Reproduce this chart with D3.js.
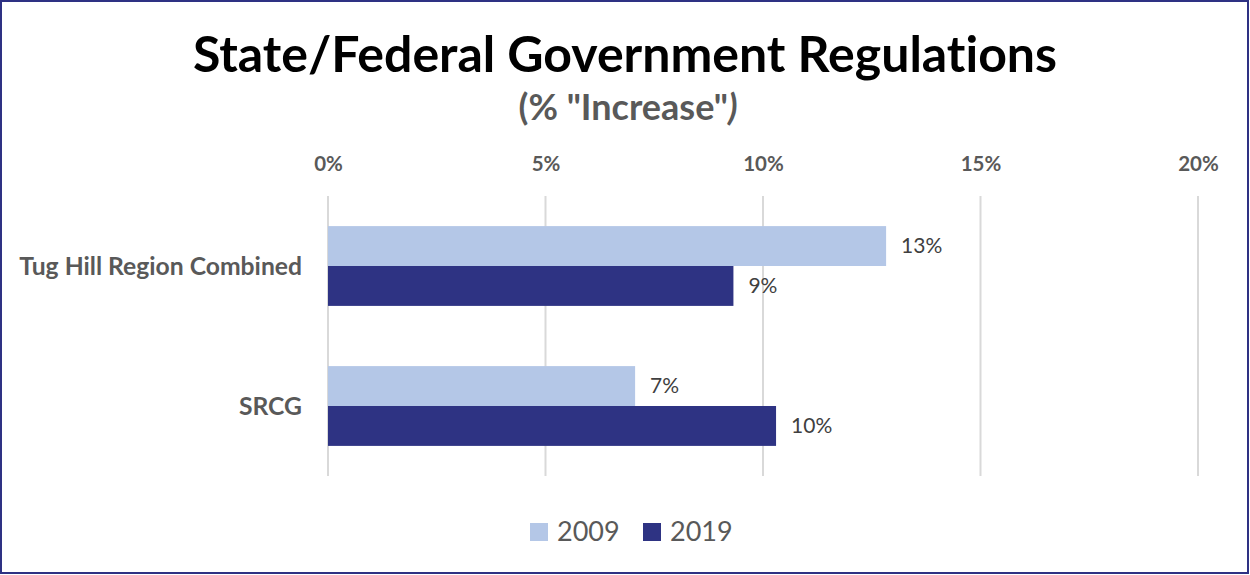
<!DOCTYPE html>
<html><head><meta charset="utf-8">
<script src="https://cdn.jsdelivr.net/npm/d3@7"></script>
<style>body{margin:0;background:#fff}svg{display:block}text{font-variant-ligatures:none}</style>
</head><body>
<svg id="c" width="1250" height="575"></svg>
<script>
const categories = ["Tug Hill Region Combined", "SRCG"];
const seriesNames = ["2009", "2019"];
const values2009 = [12.83, 7.06];
const values2019 = [9.32, 10.3];
const tickValues = [0, 5, 10, 15, 20];
const colors = ["#b4c7e7", "#2e3383"];

const svg = d3.select("#c");
const font = "Lato, 'Open Sans', sans-serif";
svg.append("rect").attr("x",1).attr("y",1).attr("width",1247).attr("height",572)
  .attr("fill","#fff").attr("stroke","#2e3183").attr("stroke-width",2);

const x = d3.scaleLinear().domain([0,20]).range([328,1198]);
const y = d3.scaleBand().domain(categories).range([196,476]).paddingInner(0.43).paddingOuter(0.215);
const ys = d3.scaleBand().domain(seriesNames).range([0,y.bandwidth()]);

svg.append("text").attr("x",625).attr("y",72).attr("text-anchor","middle")
  .attr("font-family",font).attr("font-weight","bold").attr("font-size",50).attr("fill","#000")
  .text("State/Federal Government Regulations");
const sub = svg.append("text").attr("x",628).attr("y",120).attr("text-anchor","middle")
  .attr("font-family",font).attr("font-weight","bold").attr("font-size",36).attr("fill","#595959");
sub.append("tspan").text('(% "Increase"');
sub.append("tspan").attr("font-style","italic").text(")");

// gridlines
svg.append("g").selectAll("line").data(tickValues).join("line")
  .attr("x1",d=>x(d)).attr("x2",d=>x(d)).attr("y1",196).attr("y2",476)
  .attr("stroke","#d9d9d9").attr("stroke-width",2);

const axis = d3.axisTop(x).tickValues(tickValues).tickFormat(d=>d+"%").tickSize(0).tickPadding(0);
const ag = svg.append("g").attr("transform","translate(0,171)").call(axis);
ag.select(".domain").remove();
ag.selectAll("text").attr("font-family",font).attr("font-weight","bold").attr("font-size",20.5).attr("fill","#595959");

const data = categories.map((c,i)=>({cat:c, vals:[values2009[i], values2019[i]]}));
const groups = svg.append("g").selectAll("g").data(data).join("g")
  .attr("transform",d=>`translate(0,${y(d.cat)})`);
groups.selectAll("rect").data(d=>d.vals.map((v,j)=>({v, s:seriesNames[j], j}))).join("rect")
  .attr("x",x(0)).attr("y",d=>ys(d.s)).attr("width",d=>x(d.v)-x(0)).attr("height",ys.bandwidth())
  .attr("fill",d=>colors[d.j]);
groups.selectAll("text.lbl").data(d=>d.vals.map((v,j)=>({v, s:seriesNames[j], j}))).join("text")
  .attr("class","lbl").attr("x",d=>x(d.v)+15).attr("y",d=>ys(d.s)+ys.bandwidth()/2).attr("dy","0.35em")
  .attr("font-family",font).attr("font-size",21).attr("fill","#404040")
  .text(d=>Math.round(d.v)+"%");

svg.append("g").selectAll("text").data(categories).join("text")
  .attr("x",302).attr("y",d=>y(d)+y.bandwidth()/2).attr("dy","0.35em").attr("text-anchor","end")
  .attr("font-family",font).attr("font-weight","bold").attr("font-size",24.7).attr("fill","#595959")
  .text(d=>d);

// legend
const leg = svg.append("g");
const legX = [530, 643];
seriesNames.forEach((s,i)=>{
  leg.append("rect").attr("x",legX[i]).attr("y",523).attr("width",18).attr("height",18).attr("fill",colors[i]);
  leg.append("text").attr("x",legX[i]+27).attr("y",541).attr("font-family",font).attr("font-size",27)
    .attr("fill","#595959").text(s);
});
</script>
</body></html>
